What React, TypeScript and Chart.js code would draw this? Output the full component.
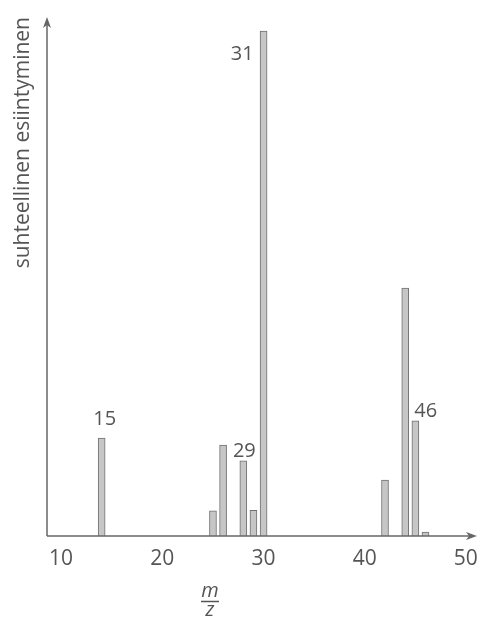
import React, { useEffect, useRef } from "react";
import { Chart, registerables } from "chart.js";

Chart.register(...registerables);

// ---- data ----
const mzValues = [15, 26, 27, 29, 30, 31, 43, 45, 46, 47];
const relativeAbundance = [19.4, 5.0, 18.0, 14.9, 5.1, 100, 11.1, 49.1, 22.8, 0.8];
const xTickValues = [10, 20, 30, 40, 50];
const peakLabels = ["15", "29", "31", "46"];
const yAxisTitle = "suhteellinen esiintyminen";
const xAxisNumerator = "m";
const xAxisDenominator = "z";

const TEXT = "#555555";
const AXIS = "#666666";
const FONT = "'Open Sans', 'DejaVu Sans', sans-serif";

const decorPlugin = {
  id: "decor",
  afterDatasetsDraw(chart: any) {
    const ctx = chart.ctx;
    const meta = chart.getDatasetMeta(0);
    ctx.save();
    ctx.fillStyle = TEXT;
    ctx.font = `20px ${FONT}`;
    ctx.textBaseline = "alphabetic";
    peakLabels.forEach((lbl) => {
      const i = mzValues.indexOf(Number(lbl));
      const el = meta.data[i];
      if (!el) return;
      const x = el.x;
      const y = el.y;
      if (lbl === "31") {
        ctx.textAlign = "right";
        ctx.fillText(lbl, x - 10, y + 29);
      } else if (lbl === "46") {
        ctx.textAlign = "left";
        ctx.fillText(lbl, x - 1, y - 4);
      } else if (lbl === "15") {
        ctx.textAlign = "center";
        ctx.fillText(lbl, x + 3, y - 13);
      } else {
        ctx.textAlign = "center";
        ctx.fillText(lbl, x + 1, y - 4);
      }
    });
    ctx.restore();
  },
  afterDraw(chart: any) {
    const ctx = chart.ctx;
    const { left, top, bottom } = chart.chartArea;
    ctx.save();
    ctx.strokeStyle = AXIS;
    ctx.fillStyle = AXIS;
    ctx.lineWidth = 1.5;
    // y axis with arrow
    ctx.beginPath();
    ctx.moveTo(left, bottom);
    ctx.lineTo(left, top + 4);
    ctx.stroke();
    ctx.beginPath();
    ctx.moveTo(left, top);
    ctx.lineTo(left - 4, top + 11);
    ctx.lineTo(left, top + 8);
    ctx.lineTo(left + 4, top + 11);
    ctx.closePath();
    ctx.fill();
    // x axis with arrow
    const xEnd = chart.width - 1;
    ctx.beginPath();
    ctx.moveTo(left, bottom);
    ctx.lineTo(xEnd - 4, bottom);
    ctx.stroke();
    ctx.beginPath();
    ctx.moveTo(xEnd, bottom);
    ctx.lineTo(xEnd - 11, bottom - 4);
    ctx.lineTo(xEnd - 8, bottom);
    ctx.lineTo(xEnd - 11, bottom + 4);
    ctx.closePath();
    ctx.fill();

    // m/z fraction title
    const cx = 210;
    ctx.fillStyle = TEXT;
    ctx.strokeStyle = TEXT;
    ctx.font = `italic 20px ${FONT}`;
    ctx.textAlign = "center";
    ctx.textBaseline = "alphabetic";
    ctx.fillText(xAxisNumerator, cx, 597);
    ctx.lineWidth = 1.5;
    ctx.beginPath();
    ctx.moveTo(cx - 9, 601.5);
    ctx.lineTo(cx + 9, 601.5);
    ctx.stroke();
    ctx.fillText(xAxisDenominator, cx, 616);
    ctx.restore();
  },
};

export default function App() {
  const canvasRef = useRef<HTMLCanvasElement | null>(null);

  useEffect(() => {
    if (!canvasRef.current) return;
    const chart = new Chart(canvasRef.current, {
      type: "bar",
      data: {
        datasets: [
          {
            data: mzValues.map((mz, i) => ({ x: mz, y: relativeAbundance[i] })),
            backgroundColor: "#c6c6c6",
            borderColor: "#707070",
            borderWidth: 1,
            barThickness: 7,
            borderSkipped: "bottom",
          },
        ],
      },
      options: {
        responsive: false,
        animation: false,
        layout: { padding: { top: 17, right: 4, left: 0, bottom: 0 } },
        plugins: {
          legend: { display: false },
          tooltip: { enabled: false },
        },
        scales: {
          x: {
            type: "linear",
            min: 9.6,
            max: 51.5,
            offset: false,
            grid: { display: false, drawTicks: false, offset: false },
            border: { display: false },
            afterBuildTicks: (scale: any) => {
              scale.ticks = xTickValues.map((v) => ({ value: v }));
            },
            afterFit: (scale: any) => {
              scale.height = 85;
            },
            ticks: {
              color: TEXT,
              font: { family: FONT, size: 21 },
              padding: 10,
              labelOffset: 10,
              autoSkip: false,
              maxRotation: 0,
              callback: (v: any) => String(v),
            },
          },
          y: {
            min: 0,
            max: 102.8,
            grid: { display: false, drawTicks: false },
            border: { display: false },
            ticks: { display: false },
            afterFit: (scale: any) => {
              scale.width = 47;
            },
            title: {
              display: true,
              text: yAxisTitle,
              align: "end",
              color: TEXT,
              font: { family: FONT, size: 21 },
              padding: { top: 10, bottom: 0 },
            },
          },
        },
      },
      plugins: [decorPlugin],
    } as any);
    return () => chart.destroy();
  }, []);

  return (
    <div style={{ position: "absolute", left: 0, top: 0, width: 478, height: 621, background: "#fff" }}>
      <canvas ref={canvasRef} width={478} height={621} style={{ display: "block" }} />
    </div>
  );
}
